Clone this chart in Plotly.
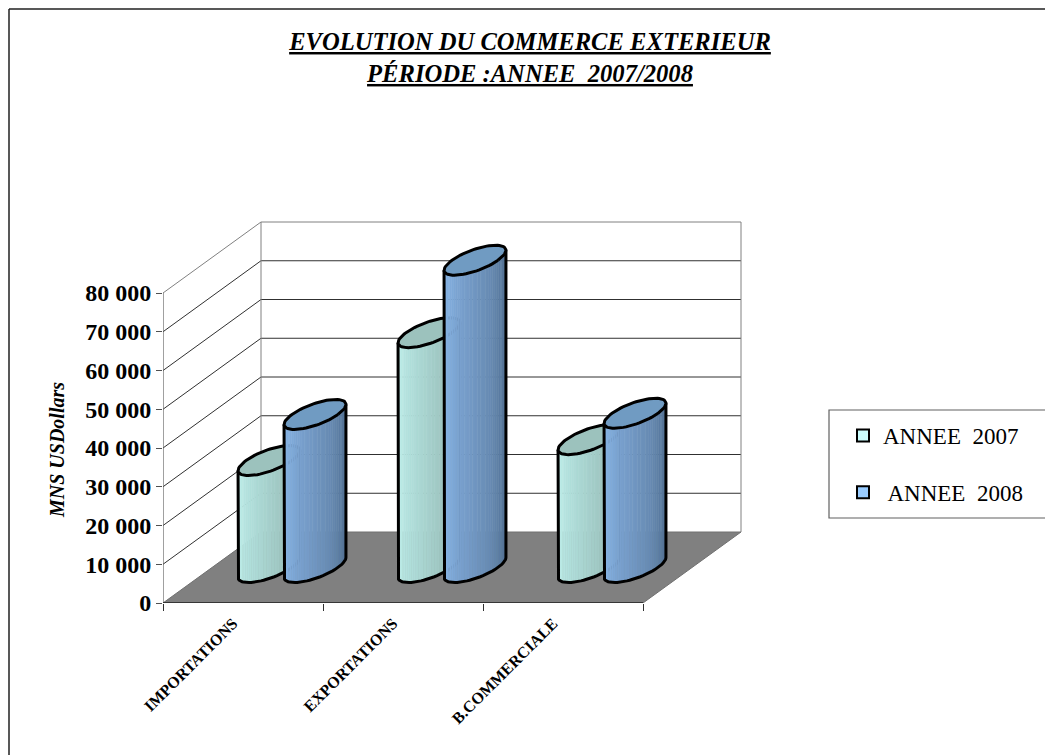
import math
import plotly.graph_objects as go

categories = ["IMPORTATIONS", "EXPORTATIONS", "B.COMMERCIALE"]
series_names = ["ANNEE  2007", " ANNEE  2008"]
values_2007 = [27600, 60600, 33000]
values_2008 = [39500, 79300, 39800]
y_ticks = [0, 10000, 20000, 30000, 40000, 50000, 60000, 70000, 80000]
y_tick_labels = ["0", "10 000", "20 000", "30 000", "40 000", "50 000", "60 000", "70 000", "80 000"]

FONT = "Liberation Serif"
OFF = 8               # page body margin
W, H = 1045, 747
PX_CAT = 160.0        # px per category
PX_VAL = 38.75 / 10000  # px per value unit
LEFT, BOTTOM = 163, 603
DEPTH_PX_X, DEPTH_PX_Y = 98.0, 71.0
DX = DEPTH_PX_X / PX_CAT
DY = DEPTH_PX_Y / PX_VAL
PLOT_W, PLOT_H = 600, 400
VMAX = 80000


def fx(px):
    return (px - OFF) / W


def fy(py):
    return 1 - (py - OFF) / H


def proj(cat, depth, val):
    return cat + depth * DX, val + depth * DY


def lerp_color(stops, t):
    for (t0, c0), (t1, c1) in zip(stops, stops[1:]):
        if t <= t1:
            u = (t - t0) / (t1 - t0)
            return "rgb(%d,%d,%d)" % tuple(round(a + (b - a) * u) for a, b in zip(c0, c1))
    return "rgb(%d,%d,%d)" % stops[-1][1]


fig = go.Figure()


def line(xs, ys, color, width):
    fig.add_trace(go.Scatter(x=xs, y=ys, mode="lines", line=dict(color=color, width=width),
                             hoverinfo="skip", showlegend=False))


# floor
corners = [proj(0, 0, 0), proj(3, 0, 0), proj(3, 1, 0), proj(0, 1, 0), proj(0, 0, 0)]
fig.add_trace(go.Scatter(x=[c[0] for c in corners], y=[c[1] for c in corners], mode="lines",
                         fill="toself", fillcolor="#808080", line=dict(color="#707070", width=1),
                         hoverinfo="skip", showlegend=False))

# walls and gridlines
for v in y_ticks:
    a, b, c = proj(0, 0, v), proj(0, 1, v), proj(3, 1, v)
    col = "#808080" if v == VMAX else "#303030"
    if v > 0:
        line([a[0], b[0]], [a[1], b[1]], col, 1)
        line([b[0], c[0]], [b[1], c[1]], col, 1)
for cat in (0, 3):
    a, b = proj(cat, 1, 0), proj(cat, 1, VMAX)
    line([a[0], b[0]], [a[1], b[1]], "#808080", 1)
line([0, 0], [0, VMAX], "#606060", 1.2)
line([0, 3], [0, 0], "#202020", 1.6)

# cylinders
R_CAT = 23.0 / PX_CAT
R_DEPTH = 15.0 / DEPTH_PX_Y
OFFS = [-R_CAT, R_CAT]
RAMPS = [
    [(0, (198, 244, 240)), (0.3, (176, 222, 218)), (1, (140, 172, 168))],
    [(0, (142, 190, 240)), (0.3, (124, 164, 210)), (0.65, (104, 140, 180)), (1, (78, 106, 138))],
]
CAPS = ["#9cc2bd", "#709bc2"]
N_STRIPS = 36
N_ELL = 72
THETA0 = math.atan2(R_DEPTH * DEPTH_PX_X, R_CAT * PX_CAT)


def rim(cx, val, th):
    return proj(cx + R_CAT * math.cos(th), 0.5 + R_DEPTH * math.sin(th), val)


for ci in range(len(categories)):
    for si, vals in enumerate((values_2007, values_2008)):
        cx = ci + 0.5 + OFFS[si]
        v = vals[ci]
        ths = [THETA0 + math.pi + math.pi * i / N_STRIPS for i in range(N_STRIPS + 1)]
        for i in range(N_STRIPS):
            b0, b1 = rim(cx, 0, ths[i]), rim(cx, 0, ths[i + 1])
            t0, t1 = rim(cx, v, ths[i]), rim(cx, v, ths[i + 1])
            col = lerp_color(RAMPS[si], (i + 0.5) / N_STRIPS)
            fig.add_trace(go.Scatter(
                x=[b0[0], b1[0], t1[0], t0[0], b0[0]], y=[b0[1], b1[1], t1[1], t0[1], b0[1]],
                mode="lines", fill="toself", fillcolor=col, line=dict(color=col, width=0.6),
                hoverinfo="skip", showlegend=False))
        pts = [rim(cx, v, ths[0])] + [rim(cx, 0, t) for t in ths] + [rim(cx, v, ths[-1])]
        line([p[0] for p in pts], [p[1] for p in pts], "black", 3)
        cap = [rim(cx, v, 2 * math.pi * i / N_ELL) for i in range(N_ELL + 1)]
        fig.add_trace(go.Scatter(x=[p[0] for p in cap], y=[p[1] for p in cap], mode="lines",
                                 fill="toself", fillcolor=CAPS[si],
                                 line=dict(color="black", width=3),
                                 hoverinfo="skip", showlegend=False))

# legend entries
LEG = ["#CCFFFF", "#99CCFF"]
for si, name in enumerate(series_names):
    fig.add_trace(go.Scatter(x=[None], y=[None], mode="markers", name=name,
                             legendgroup=name,
                             marker=dict(symbol="square", size=15, color=LEG[si],
                                         line=dict(color="black", width=2))))

xmax = PLOT_W / PX_CAT
ymax = PLOT_H / PX_VAL
fig.update_layout(
    width=W, height=H, autosize=False,
    margin=dict(l=0, r=0, t=0, b=0, autoexpand=False),
    paper_bgcolor="white", plot_bgcolor="rgba(0,0,0,0)",
    font=dict(family=FONT, color="black"),
    title=dict(text="<b><i><u>EVOLUTION DU COMMERCE EXTERIEUR</u><br><u>PÉRIODE :ANNEE  2007/2008</u></i></b>",
               font=dict(size=24.6, family=FONT), x=fx(530), xanchor="center", xref="paper",
               y=fy(50), yanchor="top", yref="paper"),
    xaxis=dict(domain=[fx(LEFT), fx(LEFT + PLOT_W)], range=[0, xmax], showgrid=False, zeroline=False,
               showline=False, tickmode="array", tickvals=[0.5, 1.5, 2.5], ticktext=categories,
               tickangle=-45, tickfont=dict(size=16, family=FONT, weight="bold"),
               ticks="", ticklabelstandoff=7, ticklabelshift=-10,
               minor=dict(tickmode="array", tickvals=[0, 1, 2, 3], ticks="outside",
                          ticklen=7, tickcolor="#303030", tickwidth=1, showgrid=False)),
    yaxis=dict(domain=[fy(BOTTOM), fy(BOTTOM - PLOT_H)], range=[0, ymax], showgrid=False, zeroline=False,
               showline=False, tickmode="array", tickvals=y_ticks, ticktext=y_tick_labels,
               tickfont=dict(size=24, family=FONT, weight="bold"),
               ticks="outside", ticklen=6, tickcolor="#505050", tickwidth=1),
    showlegend=True,
    legend=dict(x=fx(843), xanchor="left", y=fy(414), yanchor="top", bgcolor="rgba(0,0,0,0)",
                font=dict(size=23, family=FONT), tracegroupgap=24, itemsizing="constant"),
    shapes=[
        dict(type="line", xref="paper", yref="paper", x0=fx(9), x1=fx(1060), y0=fy(9), y1=fy(9),
             line=dict(color="#202020", width=1.5)),
        dict(type="line", xref="paper", yref="paper", x0=fx(9), x1=fx(9), y0=fy(9), y1=0,
             line=dict(color="#202020", width=1.5)),
        dict(type="rect", xref="paper", yref="paper", x0=fx(829), x1=fx(1060), y0=fy(410), y1=fy(518),
             line=dict(color="#606060", width=1.2), layer="below"),
    ],
    annotations=[
        dict(text="<b><i>MNS USDollars</i></b>", xref="paper", yref="paper", x=fx(57), y=fy(450),
             textangle=-90, showarrow=False, font=dict(size=20, family=FONT),
             xanchor="center", yanchor="middle"),
    ],
)

fig.write_html("out.html", config={"displayModeBar": False})
